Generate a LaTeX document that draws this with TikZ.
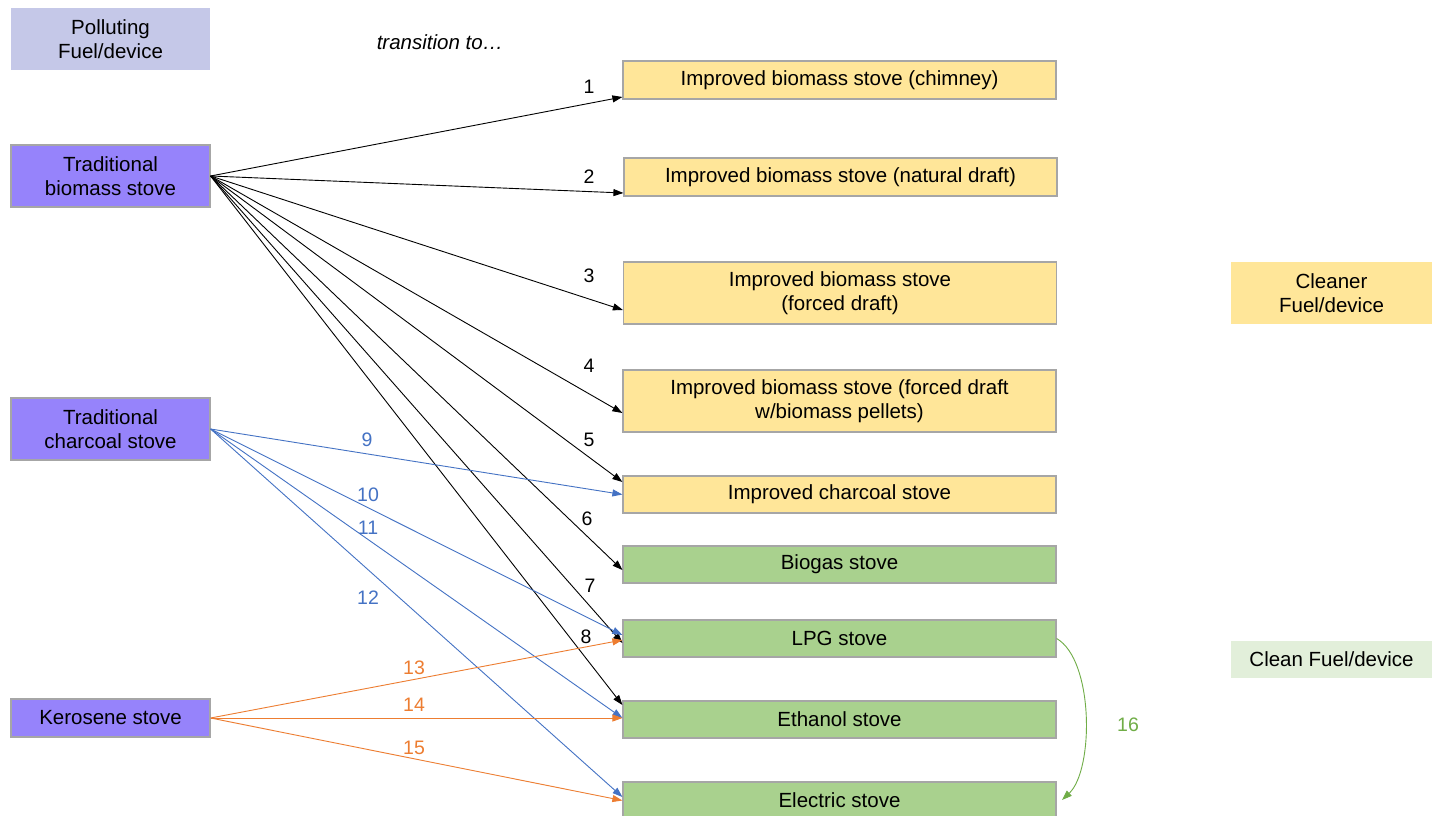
\documentclass[tikz,border=0pt]{standalone}
\usepackage{fontspec}
\setmainfont{Liberation Sans}
\usetikzlibrary{arrows.meta,calc}
\definecolor{pollut}{HTML}{C5C8E8}
\definecolor{tradp}{HTML}{9683FB}
\definecolor{yelf}{HTML}{FFE699}
\definecolor{grnf}{HTML}{A9D18E}
\definecolor{lgrn}{HTML}{E2EFDA}
\definecolor{bordc}{HTML}{A6A6A6}
\definecolor{ablue}{HTML}{4472C4}
\definecolor{aorange}{HTML}{ED7D31}
\definecolor{agreen}{HTML}{70AD47}
\tikzset{
  every node/.style={font=\fontsize{20.5}{24.5}\selectfont, inner sep=0pt, align=center},
  leftbox/.style={draw=bordc, line width=1.2pt, fill=tradp, minimum width=199pt},
  rightbox/.style={draw=bordc, line width=1.2pt, minimum width=433pt},
  ybox/.style={rightbox, fill=yelf},
  gbox/.style={rightbox, fill=grnf},
  lbl/.style={font=\fontsize{19.5}{23}\selectfont},
  arr/.style={-{Triangle[length=10pt,width=7pt]}, line width=0.9pt},
  barr/.style={arr, black},
  blarr/.style={arr, ablue},
  orarr/.style={arr, aorange},
}
\begin{document}
\begin{tikzpicture}[x=1pt,y=-1pt]
\useasboundingbox (0,0) rectangle (1432,816);
\fill[white] (0,0) rectangle (1432,816);

% left column
\node[fill=pollut, minimum width=199pt, minimum height=62pt] (poll) at (110.5,39) {Polluting\\Fuel/device};
\node[leftbox, minimum height=62pt] (tb) at (110.5,176) {Traditional\\biomass stove};
\node[leftbox, minimum height=62pt] (tc) at (110.5,429) {Traditional\\charcoal stove};
\node[leftbox, minimum height=38pt] (ke) at (110.5,718) {Kerosene stove};

\node[font=\fontsize{20.5}{24.5}\selectfont\itshape] (tr) at (440,42) {transition to\dots};

% right column
\node[ybox, minimum height=38pt] (chim) at (839.5,80) {Improved biomass stove (chimney)};
\node[ybox, minimum height=38pt] (nat) at (840.5,177) {Improved biomass stove (natural draft)};
\node[ybox, minimum height=62pt] (forc) at (840,293) {Improved biomass stove\\(forced draft)};
\node[ybox, minimum height=62pt] (pell) at (839.5,401) {Improved biomass stove (forced draft\\w/biomass pellets)};
\node[ybox, minimum height=37pt] (char) at (839.5,494.5) {Improved charcoal stove};
\node[gbox, minimum height=37pt] (biog) at (839.5,564.5) {Biogas stove};
\node[gbox, minimum height=37pt] (lpg) at (839.5,638.5) {LPG stove};
\node[gbox, minimum height=37pt] (eth) at (839.5,719.5) {Ethanol stove};
\node[gbox, minimum height=37pt] (elec) at (839.5,800.5) {Electric stove};

% legend
\node[fill=yelf, minimum width=201pt, minimum height=62pt] (cleaner) at (1331.5,293) {Cleaner\\Fuel/device};
\node[fill=lgrn, minimum width=201pt, minimum height=37pt] (clean) at (1331.5,659.5) {Clean Fuel/device};

% black arrows
\draw[barr] (tb.east) -- ([yshift=-17pt]chim.west);
\draw[barr] (tb.east) -- ([yshift=-16pt]nat.west);
\draw[barr] (tb.east) -- ([yshift=-17pt]forc.west);
\draw[barr] (tb.east) -- ([yshift=-12pt]pell.west);
\draw[barr] (tb.east) -- ([yshift=12.5pt]char.west);
\draw[barr] (tb.east) -- ([yshift=-5.5pt]biog.west);
\draw[barr] (tb.east) -- ([yshift=-4.5pt]lpg.west);
\draw[barr] (tb.east) -- ([yshift=14.5pt]eth.west);

% blue arrows
\draw[blarr] (tc.east) -- (char.west);
\draw[blarr] (tc.east) -- ([yshift=3.5pt]lpg.west);
\draw[blarr] (tc.east) -- ([yshift=1.5pt]eth.west);
\draw[blarr] (tc.east) -- ([yshift=3.5pt]elec.west);

% orange arrows
\draw[orarr] (ke.east) -- ([yshift=-1.5pt]lpg.west);
\draw[orarr] (ke.east) -- (eth.west |- ke.east);
\draw[orarr] (ke.east) -- (elec.west);

% green curved arrow
\coordinate (gend) at (1062,800);
\draw[arr, agreen] (lpg.east) .. controls (1094,660) and (1094,770) .. (gend);

% labels
\node[lbl] (l1) at (589,87) {1};
\node[lbl] (l2) at (589,177) {2};
\node[lbl] (l3) at (589,276) {3};
\node[lbl] (l4) at (589,366) {4};
\node[lbl] (l5) at (589,440) {5};
\node[lbl] (l6) at (587,519) {6};
\node[lbl] (l7) at (590,586) {7};
\node[lbl] (l8) at (586,637) {8};
\node[lbl, text=ablue] (l9) at (367,440) {9};
\node[lbl, text=ablue] (l10) at (368,495) {10};
\node[lbl, text=ablue] (l11) at (368,528) {11};
\node[lbl, text=ablue] (l12) at (368,598) {12};
\node[lbl, text=aorange] (l13) at (414,668) {13};
\node[lbl, text=aorange] (l14) at (414,705) {14};
\node[lbl, text=aorange] (l15) at (414,748) {15};
\node[lbl, text=agreen] (l16) at (1128,725) {16};
\end{tikzpicture}
\end{document}
